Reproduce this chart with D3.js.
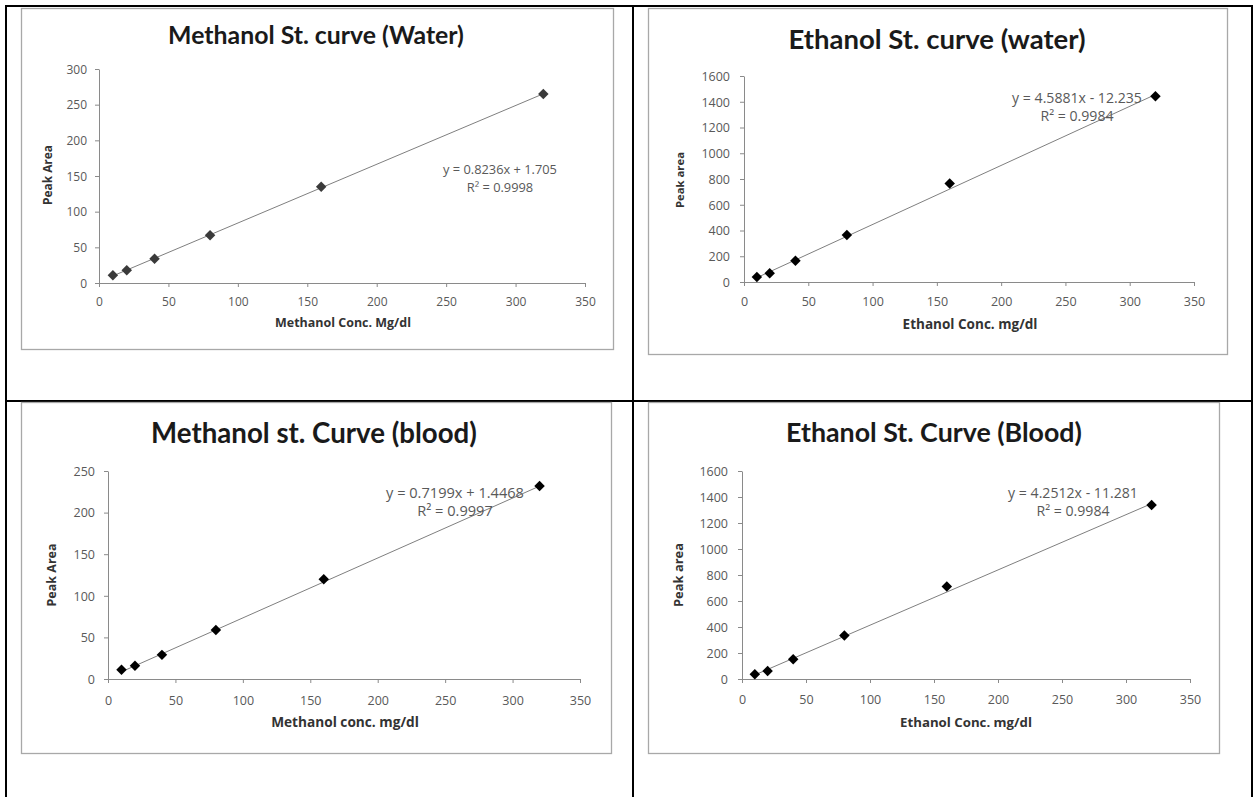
<!DOCTYPE html>
<html>
<head>
<meta charset="utf-8">
<script src="https://cdn.jsdelivr.net/npm/d3@7"></script>
<style>
  html, body { margin: 0; padding: 0; background: #fff; }
  svg { display: block; }
</style>
</head>
<body>
<svg id="chart" width="1253" height="797"></svg>
<script>
// ---------- data ----------
const xConc = [10, 20, 40, 80, 160, 320];
const methanolWater = [11, 18, 34, 67, 135, 265];
const ethanolWater = [38, 68, 165, 365, 765, 1443];
const methanolBlood = [11, 16, 29, 59, 120, 232];
const ethanolBlood = [36, 62, 152, 335, 712, 1338];

const titles = ["Methanol St. curve (Water)", "Ethanol St. curve (water)", "Methanol st. Curve (blood)", "Ethanol St. Curve (Blood)"];
const xTitles = ["Methanol Conc. Mg/dl", "Ethanol Conc. mg/dl", "Methanol conc. mg/dl", "Ethanol Conc. mg/dl"];
const yTitles = ["Peak Area", "Peak area", "Peak Area", "Peak area"];
const eqLabels = ["y = 0.8236x + 1.705", "y = 4.5881x - 12.235", "y = 0.7199x + 1.4468", "y = 4.2512x - 11.281"];
const r2Labels = ["R\u00B2 = 0.9998", "R\u00B2 = 0.9984", "R\u00B2 = 0.9997", "R\u00B2 = 0.9984"];
const slopes = [0.8236, 4.5881, 0.7199, 4.2512];
const intercepts = [1.705, -12.235, 1.4468, -11.281];
const xTicks = [0, 50, 100, 150, 200, 250, 300, 350];
const yTicksMW = [0, 50, 100, 150, 200, 250, 300];
const yTicksEW = [0, 200, 400, 600, 800, 1000, 1200, 1400, 1600];
const yTicksMB = [0, 50, 100, 150, 200, 250];
const yTicksEB = [0, 200, 400, 600, 800, 1000, 1200, 1400, 1600];

const seriesList = [methanolWater, ethanolWater, methanolBlood, ethanolBlood];
const yTickList = [yTicksMW, yTicksEW, yTicksMB, yTicksEB];
const markerColors = ["#3a3a3a", "#000", "#000", "#000"];

// ---------- layout ----------
const layout = [
  { box: [21, 8, 613, 349], px: [99, 585], py: [283, 69], titleX: 316, titleY: 44, titleW: 296,
    yLabR: 87, xLabY: 306, tick: 12, xTitleX: 343, xTitleY: 327, xTitleW: 136, yTitleX: 48, yTitleY: 175, yTitleW: 60,
    eqX: 500, eqY: 174, eqW: 114 },
  { box: [648, 8, 1227, 354], px: [744, 1194], py: [282, 76], titleX: 937, titleY: 49, titleW: 297,
    yLabR: 730, xLabY: 306, tick: 12.5, xTitleX: 970, xTitleY: 329, xTitleW: 135, yTitleX: 680, yTitleY: 180, yTitleW: 56,
    eqX: 1077, eqY: 103, eqW: 130 },
  { box: [21, 402, 611, 753], px: [108, 580], py: [679, 471], titleX: 314, titleY: 443, titleW: 326,
    yLabR: 95, xLabY: 705, tick: 12.5, xTitleX: 345, xTitleY: 727, xTitleW: 148, yTitleX: 52, yTitleY: 575, yTitleW: 63,
    eqX: 455, eqY: 498, eqW: 138 },
  { box: [648, 402, 1219, 753], px: [742, 1190], py: [679, 471], titleX: 934, titleY: 442, titleW: 296,
    yLabR: 728, xLabY: 704, tick: 12.5, xTitleX: 966, xTitleY: 727, xTitleW: 132, yTitleX: 678, yTitleY: 575, yTitleW: 64,
    eqX: 1073, eqY: 498, eqW: 130 }
];

const svg = d3.select("#chart");
const TITLE_FONT = "Lato, 'Open Sans', sans-serif";
const FONT = "'Open Sans', Lato, sans-serif";

function fit(sel, base, target) {
  sel.attr("font-size", base);
  const w = sel.node().getComputedTextLength();
  sel.attr("font-size", base * target / w);
  return sel;
}

// ---------- table grid ----------
const grid = svg.append("g").attr("stroke", "#000").attr("stroke-width", 2);
grid.append("line").attr("x1", 5).attr("x2", 1253).attr("y1", 6).attr("y2", 6);
grid.append("line").attr("x1", 5).attr("x2", 1253).attr("y1", 401).attr("y2", 401);
grid.append("line").attr("x1", 6).attr("x2", 6).attr("y1", 5).attr("y2", 797);
grid.append("line").attr("x1", 633).attr("x2", 633).attr("y1", 5).attr("y2", 797);
grid.append("line").attr("x1", 1252).attr("x2", 1252).attr("y1", 5).attr("y2", 797);

// ---------- charts ----------
layout.forEach((L, i) => {
  const g = svg.append("g");
  const [bx0, by0, bx1, by1] = L.box;
  g.append("rect")
    .attr("x", bx0 + 0.5).attr("y", by0 + 0.5)
    .attr("width", bx1 - bx0).attr("height", by1 - by0)
    .attr("fill", "#fff").attr("stroke", "#a8a8a8").attr("stroke-width", 1.3);

  const yt = yTickList[i];
  const x = d3.scaleLinear().domain([0, 350]).range(L.px);
  const y = d3.scaleLinear().domain([0, yt[yt.length - 1]]).range(L.py);

  // title
  fit(g.append("text")
    .attr("x", L.titleX).attr("y", L.titleY)
    .attr("text-anchor", "middle")
    .attr("font-family", TITLE_FONT).attr("font-weight", "bold")
    .attr("fill", "#1a1a1a")
    .text(titles[i]), 22, L.titleW);

  // x axis
  const xAxis = g.append("g")
    .attr("transform", `translate(0,${L.py[0]})`)
    .call(d3.axisBottom(x).tickValues(xTicks).tickSize(4).tickSizeOuter(0).tickFormat(d3.format("d")));
  xAxis.select(".domain").attr("stroke", "#8a8a8a");
  xAxis.selectAll(".tick line").attr("stroke", "#8a8a8a");
  xAxis.selectAll(".tick text")
    .attr("y", L.xLabY - L.py[0]).attr("dy", 0)
    .attr("font-family", FONT).attr("font-size", L.tick).attr("fill", "#595959");

  // y axis
  const yAxis = g.append("g")
    .attr("transform", `translate(${L.px[0]},0)`)
    .call(d3.axisLeft(y).tickValues(yt).tickSize(4).tickSizeOuter(0).tickFormat(d3.format("d")));
  yAxis.select(".domain").attr("stroke", "#8a8a8a");
  yAxis.selectAll(".tick line").attr("stroke", "#8a8a8a");
  yAxis.selectAll(".tick text")
    .attr("x", L.yLabR - L.px[0]).attr("dy", "0.34em")
    .attr("font-family", FONT).attr("font-size", L.tick).attr("fill", "#595959");

  // axis titles
  fit(g.append("text")
    .attr("x", L.xTitleX).attr("y", L.xTitleY)
    .attr("text-anchor", "middle")
    .attr("font-family", FONT).attr("font-weight", "bold").attr("fill", "#333")
    .text(xTitles[i]), 12, L.xTitleW);
  fit(g.append("text")
    .attr("transform", `translate(${L.yTitleX},${L.yTitleY}) rotate(-90)`)
    .attr("text-anchor", "middle").attr("dy", "0.35em")
    .attr("font-family", FONT).attr("font-weight", "bold").attr("fill", "#333")
    .text(yTitles[i]), 12, L.yTitleW);

  // trendline
  const xs = [xConc[0], xConc[xConc.length - 1]];
  g.append("line")
    .attr("x1", x(xs[0])).attr("y1", y(slopes[i] * xs[0] + intercepts[i]))
    .attr("x2", x(xs[1])).attr("y2", y(slopes[i] * xs[1] + intercepts[i]))
    .attr("stroke", "#7f7f7f").attr("stroke-width", 1);

  // equation
  const eq = fit(g.append("text")
    .attr("x", L.eqX).attr("y", L.eqY).attr("text-anchor", "middle")
    .attr("font-family", FONT).attr("fill", "#595959")
    .text(eqLabels[i]), 12, L.eqW);
  g.append("text")
    .attr("x", L.eqX).attr("y", L.eqY + 18).attr("text-anchor", "middle")
    .attr("font-family", FONT).attr("font-size", eq.attr("font-size")).attr("fill", "#595959")
    .text(r2Labels[i]);

  // markers
  const sym = d3.symbol().type(d3.symbolSquare).size(55);
  g.append("g").selectAll("path")
    .data(xConc.map((c, k) => [c, seriesList[i][k]]))
    .join("path")
    .attr("d", sym)
    .attr("transform", d => `translate(${x(d[0])},${y(d[1])}) rotate(45)`)
    .attr("fill", markerColors[i]);
});
</script>
</body>
</html>
